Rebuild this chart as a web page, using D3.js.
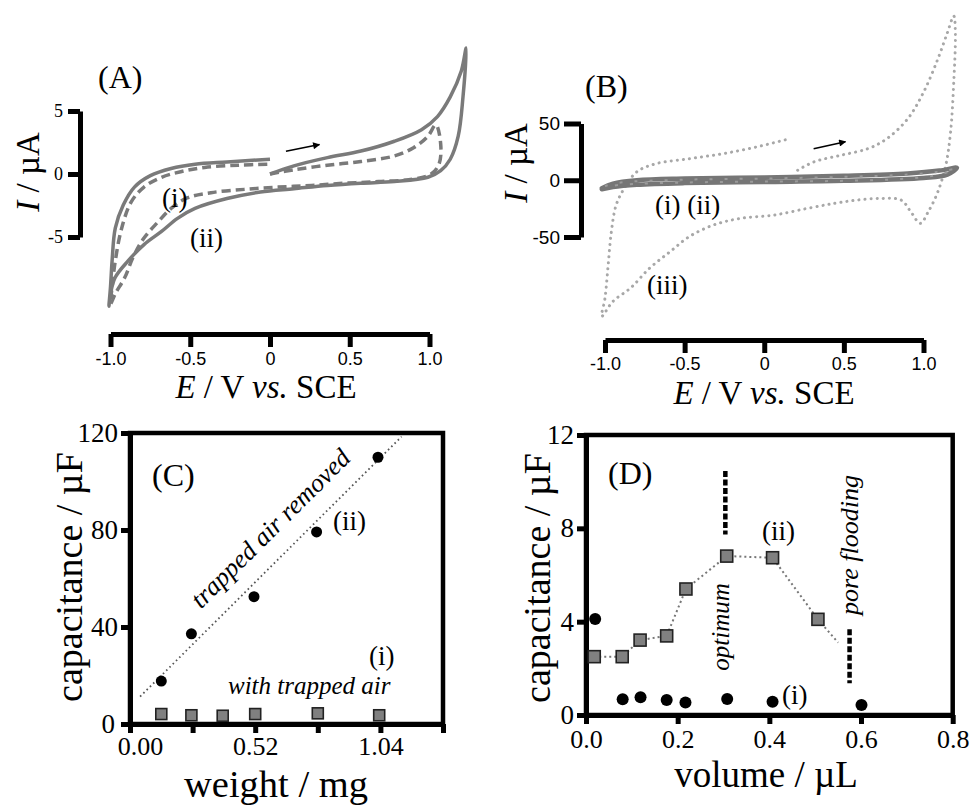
<!DOCTYPE html>
<html><head><meta charset="utf-8">
<script src="https://cdn.jsdelivr.net/npm/d3@7"></script>
<style>body{margin:0;background:#fff} svg{display:block}</style>
</head><body><svg id="c" width="974" height="805"></svg>
<script>
// ---------------- DATA ----------------
// Panel A: cyclic voltammograms (E / V, I / µA)
const aIIE = [0.00,0.15,0.36,0.57,0.78,0.95,1.05,1.13,1.20,1.23, 1.21,1.18,1.13,1.07,0.99,0.78,0.57,0.36,0.15,-0.06,-0.27,-0.47,-0.58,-0.68,-0.79,-0.89,-0.97,-1.00,-1.01, -1.00,-0.99,-0.97,-0.92,-0.85,-0.75,-0.62,-0.47,-0.27,0.00];
const aIII = [0.0,0.65,1.30,1.82,2.60,3.52,4.56,6.12,8.20,10.0, 6.12,3.0,1.17,0.26,-0.26,-0.60,-0.73,-0.91,-1.17,-1.43,-1.95,-2.73,-3.52,-4.56,-5.6,-6.9,-8.2,-9.5,-10.5, -8.96,-6.9,-4.3,-2.47,-1.04,-0.13,0.44,0.78,0.96,1.17];
const aIE = [0.00,0.15,0.36,0.57,0.78,0.90,0.99,1.04, 1.07,1.06,1.01,0.88,0.68,0.47,0.26,0.05,-0.16,-0.37,-0.52,-0.62,-0.70,-0.79,-0.86,-0.91,-0.97,-1.00, -0.99,-0.97,-0.93,-0.87,-0.79,-0.68,-0.56,-0.41,-0.20,0.00];
const aII = [0.0,0.34,0.70,0.99,1.43,2.08,3.0,3.9, 2.4,0.8,0.0,-0.44,-0.6,-0.73,-0.91,-1.04,-1.22,-1.48,-1.9,-2.73,-3.78,-5.08,-6.64,-8.2,-9.5,-10.3, -8.96,-6.9,-4.3,-2.21,-1.04,-0.26,0.18,0.52,0.70,0.78];
const aArrowE = [0.10,0.31];
const aArrowI = [1.8,2.34];
const aXTicks = [-1,-0.5,0,0.5,1];
const aXTickLabels = ["-1.0","-0.5","0","0.5","1.0"];
const aYTicks = [-5,0,5];
const aYTickLabels = ["-5","0","5"];

// Panel B
const bIIIE = [0.21,0.31,0.48,0.65,0.77,0.90,1.00,1.09,1.15,1.19, 1.20,1.19,1.17,1.14,1.09,1.03,0.98,0.92,0.86,0.73,0.58,0.44,0.27,0.06,-0.15,-0.32,-0.47,-0.59,-0.72,-0.84,-0.95,-1.02, -1.00,-0.98,-0.96,-0.93,-0.88,-0.80,-0.68,-0.47,-0.26,-0.05,0.16];
const bIIII = [8.8,16.1,22,27.8,36.6,54,77.5,106.8,130,144.7, 130,86.3,42.5,13.2,-10.2,-27.7,-38,-27.7,-17.5,-16,-17.5,-20.4,-24.8,-30.7,-33.6,-39.5,-49.6,-62.8,-77.5,-95,-106.7,-119.8, -103.8,-74.6,-45.3,-21.9,-7.3,7.4,14.6,19,23.4,29.3,36.6];
const bIE = [-1.02,-0.95,-0.8,-0.5,0,0.5,0.9,1.1,1.21, 1.15,1.0,0.5,0,-0.5,-0.8,-0.95,-1.02];
const bII = [-7,-3,0,1.5,2.5,4,6,8.5,11, 5,2,-0.5,-1.5,-2.5,-4,-6,-8];
const bIIE = [-1.0,-0.9,-0.5,0,0.5,0.9,1.1,1.2, 1.1,0.9,0.5,0,-0.5,-0.9,-1.0];
const bIII = [-5,-2,0.5,1.5,3,5,7.5,10, 5,1.5,-0.5,-1.2,-2,-4,-6];
const bArrowE = [0.31,0.51];
const bArrowI = [27.8,34];
const bYTicks = [-50,0,50];
const bYTickLabels = ["-50","0","50"];

// Panel C: capacitance vs weight
const cWeightCirc = [0.13,0.255,0.515,0.775,1.03];
const cCapCirc = [17.7,37.2,52.5,79.2,110];
const cWeightSq = [0.13,0.255,0.385,0.52,0.78,1.035];
const cCapSq = [4.1,3.6,3.4,4.1,4.4,3.6];
const cFitW = [0.042,1.128];
const cFitC = [11.3,118.5];
const cXTicks = [0,0.26,0.52,0.78,1.04,1.30];
const cXTickLabels = ["0.00","","0.52","","1.04",""];
const cYTicks = [0,40,80,120];

// Panel D: capacitance vs volume
const dVolSq = [0.018,0.079,0.118,0.176,0.218,0.307,0.407,0.506];
const dCapSq = [2.5,2.5,3.21,3.39,5.4,6.81,6.74,4.1];
const dTrendVol = [0.018,0.079,0.118,0.176,0.218,0.307,0.407,0.506,0.55];
const dTrendCap = [2.5,2.5,3.21,3.39,5.4,6.81,6.74,4.1,3.1];
const dVolCirc = [0.02,0.08,0.119,0.176,0.217,0.308,0.407,0.601];
const dCapCirc = [4.11,0.67,0.76,0.64,0.54,0.69,0.57,0.43];
const dOptVol = [0.304,0.304];
const dOptCap = [10.46,7.74];
const dFloodVol = [0.575,0.575];
const dFloodCap = [3.67,1.36];
const dXTicks = [0,0.2,0.4,0.6,0.8];
const dXTickLabels = ["0.0","0.2","0.4","0.6","0.8"];
const dYTicks = [0,4,8,12];

// ---------------- DRAW ----------------
const svg = d3.select("#c");
svg.append("rect").attr("width",974).attr("height",805).attr("fill","#fff");
const SERIF = "'Liberation Serif','Times New Roman',serif";
const SANS = "'Liberation Sans',Arial,sans-serif";

svg.append("defs").append("marker").attr("id","ah").attr("viewBox","0 0 10 10")
  .attr("refX",9).attr("refY",5).attr("markerWidth",9).attr("markerHeight",7)
  .attr("markerUnits","userSpaceOnUse").attr("orient","auto")
  .append("path").attr("d","M0,0L10,5L0,10Z").attr("fill","#000");

function styleAxis(g, w, font, size){
  g.attr("font-family",null).attr("font-size",null);
  g.select(".domain").attr("stroke","#000").attr("stroke-width",w);
  g.selectAll(".tick line").attr("stroke","#000").attr("stroke-width",w);
  g.selectAll(".tick text").attr("font-family",font).attr("font-size",size).attr("fill","#000");
  return g;
}
function txt(x,y,s,size,opts={}){
  const t = svg.append("text").attr("x",x).attr("y",y).attr("font-family",SERIF)
    .attr("font-size",size).attr("fill","#000").text(s);
  if(opts.italic) t.attr("font-style","italic");
  if(opts.anchor) t.attr("text-anchor",opts.anchor);
  return t;
}
function richLabel(x,y,parts,size,rot){
  const t = svg.append("text").attr("transform",`translate(${x},${y})${rot?` rotate(${rot})`:""}`)
    .attr("text-anchor","middle").attr("font-family",SERIF).attr("font-size",size).attr("fill","#000");
  parts.forEach(p=>t.append("tspan").attr("font-style",p[1]?"italic":"normal").text(p[0]));
  return t;
}
const cv = (xs,ys)=>d3.line().x(d=>xs(d[0])).y(d=>ys(d[1])).curve(d3.curveCatmullRom.alpha(0.5));

// ===== Panel A =====
const xA = d3.scaleLinear().domain([-1,1]).range([110.5,429.5]);
const yA = d3.scaleLinear().domain([-5,5]).range([237,111]);
styleAxis(svg.append("g").attr("transform","translate(0,334)")
  .call(d3.axisBottom(xA).tickValues(aXTicks).tickFormat((d,i)=>aXTickLabels[i]).tickSize(13).tickSizeOuter(0).tickPadding(5)),5,SANS,18);
styleAxis(svg.append("g").attr("transform","translate(80,0)")
  .call(d3.axisLeft(yA).tickValues(aYTicks).tickFormat((d,i)=>aYTickLabels[i]).tickSize(12).tickSizeOuter(0).tickPadding(5)),5,SERIF,18);
svg.append("path").attr("d",cv(xA,yA)(d3.zip(aIE,aII))).attr("fill","none")
  .attr("stroke","#7a7a7a").attr("stroke-width",3.5).attr("stroke-dasharray","9,5");
svg.append("path").attr("d",cv(xA,yA)(d3.zip(aIIE,aIII))).attr("fill","none")
  .attr("stroke","#7a7a7a").attr("stroke-width",3.5);
svg.append("line").attr("x1",xA(aArrowE[0])).attr("y1",yA(aArrowI[0])).attr("x2",xA(aArrowE[1])).attr("y2",yA(aArrowI[1]))
  .attr("stroke","#000").attr("stroke-width",1.6).attr("marker-end","url(#ah)");
txt(98,88,"(A)",32);
txt(162,207,"(i)",27);
txt(190,247,"(ii)",27);
richLabel(39,172,[["I",1],[" / µA",0]],33,-90);
richLabel(266,398,[["E",1],[" / V ",0],["vs.",1],[" SCE",0]],33);

// ===== Panel B =====
const xB = d3.scaleLinear().domain([-1,1]).range([605,923.5]);
const yB = d3.scaleLinear().domain([-50,50]).range([237,123.5]);
styleAxis(svg.append("g").attr("transform","translate(0,340)")
  .call(d3.axisBottom(xB).tickValues(aXTicks).tickFormat((d,i)=>aXTickLabels[i]).tickSize(13).tickSizeOuter(0).tickPadding(4)),5,SANS,18);
styleAxis(svg.append("g").attr("transform","translate(581,0)")
  .call(d3.axisLeft(yB).tickValues(bYTicks).tickFormat((d,i)=>bYTickLabels[i]).tickSize(17).tickSizeOuter(0).tickPadding(4)),5,SANS,19);
svg.append("path").attr("d",cv(xB,yB)(d3.zip(bIIIE,bIIII))).attr("fill","none")
  .attr("stroke","#a8a8a8").attr("stroke-width",3).attr("stroke-linecap","round").attr("stroke-dasharray","0.1,6");
svg.append("path").attr("d",cv(xB,yB)(d3.zip(bIE,bII))).attr("fill","none")
  .attr("stroke","#767676").attr("stroke-width",4.5).attr("stroke-linejoin","round").attr("stroke-linecap","round");
svg.append("path").attr("d",cv(xB,yB)(d3.zip(bIIE,bIII))).attr("fill","none")
  .attr("stroke","#9a9a9a").attr("stroke-width",2).attr("stroke-dasharray","3,12");
svg.append("line").attr("x1",xB(bArrowE[0])).attr("y1",yB(bArrowI[0])).attr("x2",xB(bArrowE[1])).attr("y2",yB(bArrowI[1]))
  .attr("stroke","#000").attr("stroke-width",1.6).attr("marker-end","url(#ah)");
txt(585,97,"(B)",32);
txt(655,214,"(i) (ii)",27);
txt(647,294,"(iii)",27);
richLabel(527,163,[["I",1],[" / µA",0]],33,-90);
richLabel(764,404,[["E",1],[" / V ",0],["vs.",1],[" SCE",0]],33);

// ===== Panel C =====
const xC = d3.scaleLinear().domain([0,1.3]).range([130,443]);
const yC = d3.scaleLinear().domain([0,120]).range([724,433]);
const cxAxis = styleAxis(svg.append("g").attr("transform",`translate(0,${yC(0)})`)
  .call(d3.axisBottom(xC).tickValues(cXTicks).tickFormat((d,i)=>cXTickLabels[i]).tickSize(9).tickSizeOuter(0).tickPadding(4)),5,SERIF,26);
cxAxis.selectAll(".tick text").filter(d=>d===0).attr("dx",10);
const cyAxis = styleAxis(svg.append("g").attr("transform",`translate(${xC(0)},0)`)
  .call(d3.axisLeft(yC).tickValues(cYTicks).tickFormat(d3.format("d")).tickSize(9).tickSizeOuter(0).tickPadding(3)),5,SERIF,27);
cyAxis.selectAll(".tick text").filter(d=>d===0).attr("dx",-3);
svg.append("rect").attr("x",xC(0)).attr("y",yC(120)).attr("width",xC(1.3)-xC(0)).attr("height",yC(0)-yC(120))
  .attr("fill","none").attr("stroke","#000").attr("stroke-width",4.5);
svg.append("line").attr("x1",xC(cFitW[0])).attr("y1",yC(cFitC[0])).attr("x2",xC(cFitW[1])).attr("y2",yC(cFitC[1]))
  .attr("stroke","#555").attr("stroke-width",1.8).attr("stroke-dasharray","1.6,3");
svg.append("g").selectAll("rect").data(d3.zip(cWeightSq,cCapSq)).join("rect")
  .attr("x",d=>xC(d[0])-5.5).attr("y",d=>yC(d[1])-5.5).attr("width",11).attr("height",11)
  .attr("fill","#808080").attr("stroke","#222").attr("stroke-width",1.6);
svg.append("g").selectAll("circle").data(d3.zip(cWeightCirc,cCapCirc)).join("circle")
  .attr("cx",d=>xC(d[0])).attr("cy",d=>yC(d[1])).attr("r",5.5).attr("fill","#000");
txt(152,486,"(C)",32);
txt(333,530,"(ii)",27);
txt(369,665,"(i)",27);
txt(228,694,"with trapped air",25,{italic:1});
svg.append("text").attr("transform","translate(271,529) rotate(-44.8)").attr("text-anchor","middle").attr("dy","0.3em")
  .attr("font-family",SERIF).attr("font-style","italic").attr("font-size",26).attr("fill","#000").text("trapped air removed");
richLabel(82,577,[["capacitance / µF",0]],38,-90);
richLabel(276,796.5,[["weight / mg",0]],38.5);

// ===== Panel D =====
const xD = d3.scaleLinear().domain([0,0.8]).range([586,952.7]);
const yD = d3.scaleLinear().domain([0,12]).range([715,435]);
styleAxis(svg.append("g").attr("transform",`translate(0,${yD(0)})`)
  .call(d3.axisBottom(xD).tickValues(dXTicks).tickFormat((d,i)=>dXTickLabels[i]).tickSize(9).tickSizeOuter(0).tickPadding(6)),5,SERIF,26);
styleAxis(svg.append("g").attr("transform",`translate(${xD(0)},0)`)
  .call(d3.axisLeft(yD).tickValues(dYTicks).tickFormat(d3.format("d")).tickSize(9).tickSizeOuter(0).tickPadding(3)),5,SERIF,27);
svg.append("rect").attr("x",xD(0)).attr("y",yD(12)).attr("width",xD(0.8)-xD(0)).attr("height",yD(0)-yD(12))
  .attr("fill","none").attr("stroke","#000").attr("stroke-width",4.5);
svg.append("path").attr("d",d3.line().x(d=>xD(d[0])).y(d=>yD(d[1]))(d3.zip(dTrendVol,dTrendCap)))
  .attr("fill","none").attr("stroke","#777").attr("stroke-width",2).attr("stroke-dasharray","2,3");
[[dOptVol,dOptCap],[dFloodVol,dFloodCap]].forEach(([v,c])=>{
  svg.append("line").attr("x1",xD(v[0])).attr("y1",yD(c[0])).attr("x2",xD(v[1])).attr("y2",yD(c[1]))
    .attr("stroke","#000").attr("stroke-width",4.5).attr("stroke-dasharray","6,2.5");
});
svg.append("g").selectAll("rect").data(d3.zip(dVolSq,dCapSq)).join("rect")
  .attr("x",d=>xD(d[0])-6).attr("y",d=>yD(d[1])-6).attr("width",12).attr("height",12)
  .attr("fill","#808080").attr("stroke","#222").attr("stroke-width",1.6);
svg.append("g").selectAll("circle").data(d3.zip(dVolCirc,dCapCirc)).join("circle")
  .attr("cx",d=>xD(d[0])).attr("cy",d=>yD(d[1])).attr("r",6).attr("fill","#000");
txt(608,484,"(D)",32);
txt(762,540,"(ii)",27);
txt(782,704,"(i)",27);
svg.append("text").attr("transform","translate(729,627) rotate(-90)").attr("text-anchor","middle")
  .attr("font-family",SERIF).attr("font-style","italic").attr("font-size",25).attr("fill","#000").text("optimum");
svg.append("text").attr("transform","translate(858,545) rotate(-90)").attr("text-anchor","middle")
  .attr("font-family",SERIF).attr("font-style","italic").attr("font-size",26).attr("fill","#000").text("pore flooding");
richLabel(550,578,[["capacitance / µF",0]],38,-90);
richLabel(766,787,[["volume / µL",0]],37);
</script></body></html>
